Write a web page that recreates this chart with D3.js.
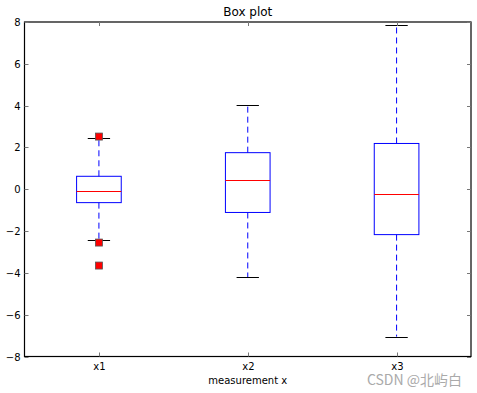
<!DOCTYPE html>
<html>
<head>
<meta charset="utf-8">
<script src="https://cdn.jsdelivr.net/npm/d3@7.9.0/dist/d3.min.js"></script>
<style>
  body { margin: 0; background: #fff; }
  text { font-family: "DejaVu Sans", sans-serif; }
</style>
</head>
<body>
<svg width="477" height="393"></svg>
<script>
// box plot data
const categories = ['x1', 'x2', 'x3'];
const q1 = [-0.64, -1.11, -2.17];
const medians = [-0.06, 0.46, -0.21];
const q3 = [0.62, 1.75, 2.19];
const whiskerLow = [-2.45, -4.22, -7.05];
const whiskerHigh = [2.44, 4.05, 7.88];
const outliers = [[2.52, -2.55, -3.65], [], []];
const yTicks = [-8, -6, -4, -2, 0, 2, 4, 6, 8];

const svg = d3.select('svg');
const margin = { left: 24.5, right: 6, top: 22, bottom: 36.5 };
const W = 477, H = 393;

let x = d3.scaleLinear().domain([0.5, 3.5]).range([margin.left, W - margin.right]);
let y = d3.scaleLinear().domain([-8, 8]).range([H - margin.bottom, margin.top]);

const boxW = x(1.15) - x(0.85);
const capW = x(1.075) - x(0.925);

let data = categories.map((c, i) => ({
  name: c, pos: i + 1, q1: q1[i], med: medians[i], q3: q3[i],
  lo: whiskerLow[i], hi: whiskerHigh[i], out: outliers[i]
}));

let g = svg.append('g');

data.forEach((d) => {
  let cx = x(d.pos);
  // whiskers
  [[d.q1, d.lo], [d.q3, d.hi]].forEach(([a, b]) => {
    g.append('line')
      .attr('x1', cx).attr('x2', cx)
      .attr('y1', y(a)).attr('y2', y(b))
      .attr('stroke', '#0000ff').attr('stroke-width', 1)
      .attr('stroke-dasharray', '6,4');
  });
  // caps
  [d.lo, d.hi].forEach((v) => {
    g.append('line')
      .attr('x1', cx - capW / 2).attr('x2', cx + capW / 2)
      .attr('y1', Math.round(y(v)) + 0.5).attr('y2', Math.round(y(v)) + 0.5)
      .attr('stroke', '#000').attr('stroke-width', 1);
  });
  // box
  g.append('rect')
    .attr('x', cx - boxW / 2).attr('y', y(d.q3))
    .attr('width', boxW).attr('height', y(d.q1) - y(d.q3))
    .attr('fill', 'none').attr('stroke', '#0000ff').attr('stroke-width', 1);
  // median
  g.append('line')
    .attr('x1', cx - boxW / 2).attr('x2', cx + boxW / 2)
    .attr('y1', Math.round(y(d.med)) + 0.5).attr('y2', Math.round(y(d.med)) + 0.5)
    .attr('stroke', '#ff0000').attr('stroke-width', 1);
  // fliers
  d.out.forEach((v) => {
    g.append('rect')
      .attr('x', cx - 3.5).attr('y', y(v) - 3.5)
      .attr('width', 7).attr('height', 7)
      .attr('fill', '#ff0000').attr('stroke', '#555').attr('stroke-width', 0.8);
  });
});

// axes frame
const axL = x(0.5), axR = x(3.5), axT = y(8), axB = y(-8);
svg.append('rect')
  .attr('x', axL).attr('y', axT)
  .attr('width', axR - axL).attr('height', axB - axT)
  .attr('fill', 'none').attr('stroke', '#000').attr('stroke-width', 1.2);

// y ticks (inward on both sides) and labels
yTicks.forEach((t) => {
  let yy = Math.round(y(t)) + 0.5;
  svg.append('line').attr('x1', axL).attr('x2', axL + 4).attr('y1', yy).attr('y2', yy)
    .attr('stroke', '#777');
  svg.append('line').attr('x1', axR).attr('x2', axR - 4).attr('y1', yy).attr('y2', yy)
    .attr('stroke', '#777');
  svg.append('text')
    .attr('x', axL - 4).attr('y', yy + 3.5)
    .attr('text-anchor', 'end').attr('font-size', 10).attr('fill', '#000')
    .text(t < 0 ? '\u2212' + Math.abs(t) : t);
});

// x ticks and labels
data.forEach((d) => {
  let xx = Math.round(x(d.pos)) + 0.5;
  svg.append('line').attr('x1', xx).attr('x2', xx).attr('y1', axB).attr('y2', axB - 4)
    .attr('stroke', '#777');
  svg.append('line').attr('x1', xx).attr('x2', xx).attr('y1', axT).attr('y2', axT + 4)
    .attr('stroke', '#777');
  svg.append('text')
    .attr('x', xx).attr('y', axB + 13)
    .attr('text-anchor', 'middle').attr('font-size', 10).attr('fill', '#000')
    .text(d.name);
});

// title and axis label
svg.append('text')
  .attr('x', (axL + axR) / 2).attr('y', 16)
  .attr('text-anchor', 'middle').attr('font-size', 12).attr('fill', '#000')
  .text('Box plot');
svg.append('text')
  .attr('x', (axL + axR) / 2).attr('y', 384)
  .attr('text-anchor', 'middle').attr('font-size', 10).attr('fill', '#000')
  .text('measurement x');

// watermark
svg.append('text')
  .attr('x', 462).attr('y', 385)
  .attr('text-anchor', 'end').attr('font-size', 14).attr('fill', '#aaa')
  .attr('style', 'font-family: "Noto Sans CJK SC", "DejaVu Sans", sans-serif')
  .text('CSDN @北屿白');
</script>
</body>
</html>
